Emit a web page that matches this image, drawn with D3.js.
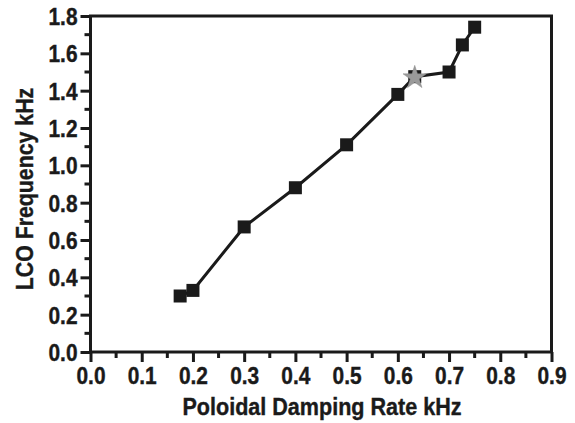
<!DOCTYPE html>
<html><head><meta charset="utf-8">
<script src="https://cdn.jsdelivr.net/npm/d3@7"></script>
<style>body{margin:0;background:#fff}svg{display:block}</style>
</head><body>
<script>
const dampingRate = [0.175, 0.20, 0.30, 0.40, 0.50, 0.60, 0.633, 0.70, 0.726, 0.75];
const lcoFreq     = [0.30, 0.33, 0.67, 0.88, 1.11, 1.38, 1.475, 1.50, 1.645, 1.74];
const starRate = [0.633];
const starFreq = [1.475];
const xTicks = [0.0,0.1,0.2,0.3,0.4,0.5,0.6,0.7,0.8,0.9];
const yTicks = [0.0,0.2,0.4,0.6,0.8,1.0,1.2,1.4,1.6,1.8];
const xTitle = "Poloidal Damping Rate kHz";
const yTitle = "LCO Frequency kHz";

const W=575,H=423;
const m={l:90.5,r:23.5,t:16,b:71};
const svg=d3.select("body").append("svg").attr("width",W).attr("height",H);
const x=d3.scaleLinear().domain([0,0.9]).range([m.l,W-m.r]);
const y=d3.scaleLinear().domain([0,1.8]).range([H-m.b,m.t]);
const font="'Liberation Sans', Arial, sans-serif";
const ink="#1a1a1a";

function condense(sel,f){
  sel.each(function(){const L=this.getComputedTextLength();
    d3.select(this).attr("textLength",L*f).attr("lengthAdjust","spacingAndGlyphs");});
}

// frame
svg.append("rect").attr("x",x(0)).attr("y",y(1.8)).attr("width",x(0.9)-x(0)).attr("height",y(0)-y(1.8))
  .attr("fill","none").attr("stroke",ink).attr("stroke-width",3);

// x axis
const xMinor=d3.range(0.05,0.9,0.1);
const gx=svg.append("g").attr("transform",`translate(0,${y(0)})`);
gx.call(d3.axisBottom(x).tickValues(xTicks).tickFormat(d3.format(".1f")).tickSize(10).tickPadding(5));
gx.selectAll("line.minor").data(xMinor).enter().append("line").attr("class","minor")
  .attr("x1",d=>x(d)).attr("x2",d=>x(d)).attr("y1",0).attr("y2",6);
// y axis
const yMinor=d3.range(0.1,1.8,0.2);
const gy=svg.append("g").attr("transform",`translate(${x(0)},0)`);
gy.call(d3.axisLeft(y).tickValues(yTicks).tickFormat(d3.format(".1f")).tickSize(10).tickPadding(3));
gy.selectAll("line.minor").data(yMinor).enter().append("line").attr("class","minor")
  .attr("y1",d=>y(d)).attr("y2",d=>y(d)).attr("x1",0).attr("x2",-6);
[gx,gy].forEach(g=>{
  g.select(".domain").remove();
  g.selectAll("line").attr("stroke",ink).attr("stroke-width",3);
  g.selectAll("text").attr("font-family",font).attr("font-weight","bold").attr("font-size",24).attr("fill",ink)
    .attr("stroke",ink).attr("stroke-width",0.4);
  condense(g.selectAll("text"),0.87);
});
gy.selectAll("text").attr("dy","0.36em");

// line
const pts=dampingRate.map((d,i)=>[d,lcoFreq[i]]);
svg.append("path").datum(pts).attr("fill","none").attr("stroke",ink).attr("stroke-width",3)
  .attr("d",d3.line().x(d=>x(d[0])).y(d=>y(d[1])));
const s=13;
svg.selectAll("rect.pt").data(pts).enter().append("rect").attr("class","pt")
  .attr("x",d=>x(d[0])-s/2).attr("y",d=>y(d[1])-s/2).attr("width",s).attr("height",s).attr("fill",ink);
// star
svg.selectAll("path.star").data(starRate.map((d,i)=>[d,starFreq[i]])).enter().append("path").attr("class","star")
  .attr("d",d3.symbol(d3.symbolStar,170)())
  .attr("transform",d=>`translate(${x(d[0])},${y(d[1])+1})`).attr("fill","#9a9a9a").attr("stroke","#888").attr("stroke-width",0.5);

// titles
const tx=svg.append("text").attr("x",322).attr("y",415).attr("text-anchor","middle")
  .attr("font-family",font).attr("font-weight","bold").attr("font-size",24.5).attr("fill",ink)
  .attr("stroke",ink).attr("stroke-width",0.4).text(xTitle);
const ty=svg.append("text").attr("transform","translate(33,189) rotate(-90)").attr("text-anchor","middle")
  .attr("font-family",font).attr("font-weight","bold").attr("font-size",24.5).attr("fill",ink)
  .attr("stroke",ink).attr("stroke-width",0.4).text(yTitle);
condense(tx,0.88); condense(ty,0.87);
</script>
</body></html>
